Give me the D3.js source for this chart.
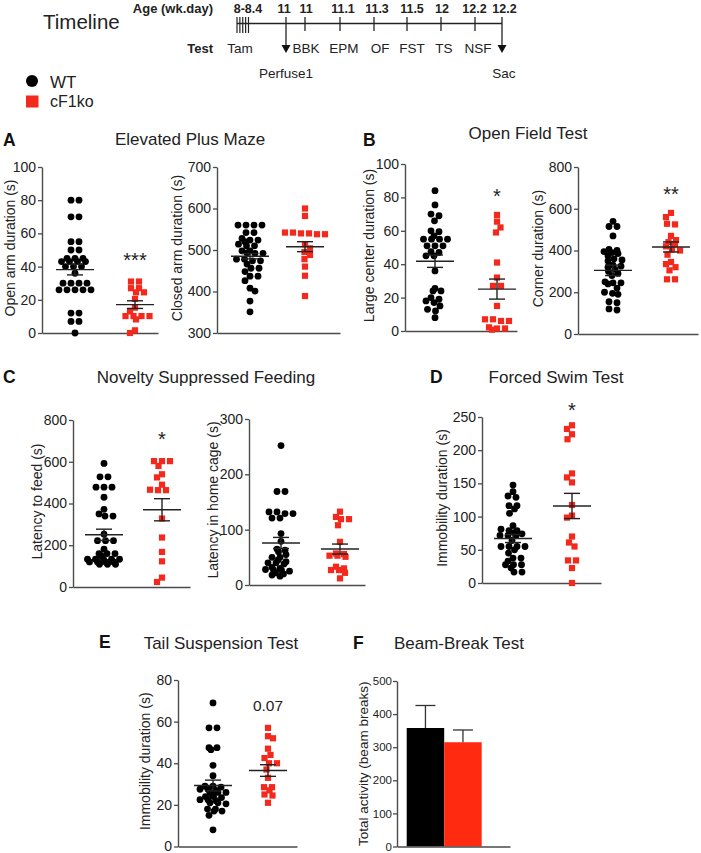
<!DOCTYPE html>
<html><head><meta charset="utf-8">
<script src="https://cdn.jsdelivr.net/npm/d3@7"></script>
<style>
body{margin:0;background:#fff;}
svg{display:block;}
</style></head><body>
<svg id="chart" width="701" height="853"></svg>
<script>
// ================= DATA =================
const groups = ["WT", "cF1ko"];
const groupColors = ["#000000", "#f2291c"];

// timeline
const timelineAgeLabels = ["8-8.4", "11", "11", "11.1", "11.3", "11.5", "12", "12.2", "12.2"];
const timelineTestLabels = ["Tam", "BBK", "EPM", "OF", "FST", "TS", "NSF"];
const timelineMarkers = ["Perfuse1", "Sac"];
const tamInjections = ["8.0", "8.1", "8.2", "8.3", "8.4"];

// panel titles
const panelLetters = ["A", "B", "C", "D", "E", "F"];
const panelTitles = ["Elevated Plus Maze", "Open Field Test", "Novelty Suppressed Feeding",
  "Forced Swim Test", "Tail Suspension Test", "Beam-Break Test"];

// A: Elevated plus maze
const openArmWT = [80,80,70,70,55,55,50,50,45,45,45,43,43,43,43,40,40,40,36,30,30,30,30,26,26,26,26,26,12,12,7,7,0];
const openArmKO = [31,31,27,27,24.5,24.5,20.5,15.3,13,10.2,10.2,10.2,10.2,8.2,1.6,0];
const openArmStats = [[38.2, 3.2], [17.1, 2.3]];
const closedArmWT = [560,560,560,560,542,542,528,524,524,520,514,510,510,498,498,493,492,492,478,478,474,474,466,456,456,448,437,437,426,408,401,377,351];
const closedArmKO = [600,582,542,542,540,540,538,538,514,504,495,488,478,460,438,389];
const closedArmStats = [[485, 6.5], [508, 12]];

// B: Open field
const centerWT = [84,75.5,70,69,66,60,59.5,57,55,55,55,55,51,51,51,47.5,47,45,45,36,25.5,24,24,20,19,18,17,15,13,12,8];
const centerKO = [69.5,65.5,62,59,41,32,27,27,15,7,7,6,6,2.2,1.5,1.5,0.8];
const centerStats = [[41.8, 3.7], [25.1, 6]];
const cornerWT = [540,515,515,470,405,400,395,390,385,375,360,355,350,330,325,320,310,300,290,280,250,245,245,240,220,200,195,190,155,150,120,115];
const cornerKO = [580,560,528,525,470,450,440,430,420,405,400,380,345,335,320,305,262,262];
const cornerStats = [[305, 25], [417, 24]];

// C: Novelty suppressed feeding
const feedWT = [592,528,528,478,478,478,430,372,350,340,340,253,222,222,222,181,160,160,160,150,133,133,133,133,133,120,120,120,120,109,109,109];
const feedKO = [603,603,603,580,540,525,490,466,464,464,328,237,168,123,45,24];
const feedStats = [[250, 27], [370, 53]];
const homeWT = [252,169,169,132,132,129,129,121,121,93,79,65,63,60,55,50,50,45,42,40,40,38,32,30,28,27,27,25,22,20,18,16];
const homeKO = [132.5,123,119,119,108,78,57,56,53,53,51,33,30,27,27,22,12];
const homeStats = [[76, 10], [65, 9]];

// D: Forced swim
const fstWT = [147.5,137.5,131,129,116.5,116.5,111.5,105,86.5,81,79,79,76,74,71.5,71.5,71.5,64,55,55,55,55,50,45,37.5,37.5,33,27.5,27.5,27.5,22.5,16.5,16.5];
const fstKO = [237.5,232,224,216.5,165,159,151.5,117.5,101.5,98.5,70,61,55,34,34,22.5,0];
const fstStats = [[67, 6], [116, 19]];

// E: Tail suspension
const tstWT = [69,57,57,47.5,47.5,46.5,39,34,29,29,28.5,27.5,27.5,27,26,26,26,25,24,24,23.5,22.5,22.5,22,21,21,20.5,18,18,17,17,15,8];
const tstKO = [57,53,52,47,44,42.5,40,40,37,33,28.5,28.5,27,25,24.5,21];
const tstStats = [[29.3, 2.6], [36.5, 2.8]];

// F: Beam break
const bbkMeans = [358, 315];
const bbkSem = [68, 37];

// significance marks
const sigLabels = ["***", "", "*", "**", "*", "", "*", "0.07"];

// ================= LAYOUT =================
const FONT = '"Liberation Sans", Arial, Helvetica, sans-serif';
const svg = d3.select("#chart");
const textCol = "#222";
const axisCol = "#4a4a4a";

// ---------- timeline ----------
const tl = svg.append("g").attr("font-family", FONT).attr("fill", textCol);
tl.append("text").attr("x", 43).attr("y", 29).attr("font-size", 20.5).text("Timeline");
tl.append("text").attr("x", 213).attr("y", 13).attr("text-anchor", "end")
  .attr("font-size", 13).attr("font-weight", "bold").text("Age (wk.day)");
tl.append("text").attr("x", 213).attr("y", 53).attr("text-anchor", "end")
  .attr("font-size", 13).attr("font-weight", "bold").text("Test");

const ageTickX = d3.scaleOrdinal().domain(d3.range(9)).range([248, 286, 305, 340, 374, 407, 441, 475, 502]);
const ageLabelX = d3.scaleOrdinal().domain(d3.range(9)).range([248, 284, 306, 343, 377, 412, 442, 474.5, 504.5]);
const tamX = d3.scalePoint().domain(tamInjections).range([237, 248.5]);
const testX = d3.scaleOrdinal().domain(d3.range(7)).range([240, 306, 344, 380, 412, 444, 478]);
const lineY = 23.5;

tl.append("line").attr("x1", tamX(tamInjections[0])).attr("x2", ageTickX(8))
  .attr("y1", lineY).attr("y2", lineY).attr("stroke", "#222").attr("stroke-width", 1.5);
tamInjections.forEach(t => tl.append("line").attr("x1", tamX(t)).attr("x2", tamX(t))
  .attr("y1", 17).attr("y2", 33).attr("stroke", "#222").attr("stroke-width", 1.2));
timelineAgeLabels.forEach((lab, i) => {
  tl.append("text").attr("x", ageLabelX(i)).attr("y", 13).attr("text-anchor", "middle")
    .attr("font-size", 12.5).attr("font-weight", "bold").text(lab);
  if (i === 0) return;
  const isArrow = (i === 1 || i === 8);
  const x = ageTickX(i);
  tl.append("line").attr("x1", x).attr("x2", x).attr("y1", 17).attr("y2", isArrow ? 46 : 31)
    .attr("stroke", "#222").attr("stroke-width", 1.3);
  if (isArrow) {
    tl.append("path").attr("d", d3.line()([[x - 4.5, 45], [x + 4.5, 45], [x, 53]]) + "Z").attr("fill", "#111");
  }
});
timelineTestLabels.forEach((lab, i) => {
  tl.append("text").attr("x", testX(i)).attr("y", 53).attr("text-anchor", "middle")
    .attr("font-size", 13.5).text(lab);
});
tl.append("text").attr("x", ageTickX(1)).attr("y", 77.5).attr("text-anchor", "middle").attr("font-size", 13.5).text(timelineMarkers[0]);
tl.append("text").attr("x", ageTickX(8) + 2).attr("y", 77.5).attr("text-anchor", "middle").attr("font-size", 13.5).text(timelineMarkers[1]);

// legend
const lg = svg.append("g").attr("font-family", FONT).attr("fill", textCol);
lg.append("circle").attr("cx", 32).attr("cy", 81).attr("r", 6).attr("fill", groupColors[0]);
lg.append("text").attr("x", 50).attr("y", 87.5).attr("font-size", 17).text(groups[0]);
lg.append("rect").attr("x", 26).attr("y", 95.5).attr("width", 12.5).attr("height", 12).attr("fill", groupColors[1]);
lg.append("text").attr("x", 50).attr("y", 107).attr("font-size", 16).text(groups[1]);

// ---------- titles ----------
const titleLayout = [
  {lx: 3, ly: 146, tx: 190, ty: 145},
  {lx: 363, ly: 146, tx: 528, ty: 139},
  {lx: 3, ly: 383, tx: 206, ty: 383},
  {lx: 430, ly: 383, tx: 556, ty: 383},
  {lx: 99, ly: 648, tx: 221, ty: 649},
  {lx: 353, ly: 649, tx: 459, ty: 649}
];
panelTitles.forEach((t, i) => {
  const L = titleLayout[i];
  svg.append("text").attr("x", L.lx).attr("y", L.ly).attr("font-family", FONT)
    .attr("font-size", 17.5).attr("font-weight", "bold").attr("fill", "#111").text(panelLetters[i]);
  svg.append("text").attr("x", L.tx).attr("y", L.ty).attr("font-family", FONT)
    .attr("font-size", 17).attr("text-anchor", "middle").attr("fill", textCol).text(t);
});

// ---------- beeswarm layout ----------
function swarm(values, y, S, D) {
  const pts = values.map(v => ({v, y: y(v), dx: 0})).sort((a, b) => a.y - b.y);
  const rows = [];
  pts.forEach(p => {
    const r = rows[rows.length - 1];
    if (r && p.y - r[0].y <= 1.8) r.push(p); else rows.push([p]);
  });
  const placed = [];
  rows.forEach((r, ri) => {
    const n = r.length;
    const base = r.map((_, i) => (i - (n - 1) / 2) * S);
    const dir = ri % 2 ? -1 : 1;
    const shifts = [0];
    for (let k = 1; k <= 10; k++) shifts.push(dir * k * 0.5, -dir * k * 0.5);
    let best = 0, bestOv = Infinity;
    for (const s of shifts) {
      let ov = 0;
      r.forEach((p, i) => {
        const x = base[i] + s;
        placed.forEach(q => {
          const d = Math.hypot(x - q.dx, p.y - q.y);
          if (d < D) ov += D - d;
        });
      });
      if (ov < bestOv - 1e-6) { bestOv = ov; best = s; }
      if (ov === 0) break;
    }
    r.forEach((p, i) => { p.dx = base[i] + best; placed.push(p); });
  });
  return pts;
}

function styleAxis(g, fs) {
  g.attr("font-family", FONT).attr("font-size", fs);
  g.selectAll(".domain").attr("stroke", axisCol).attr("stroke-width", 1.4);
  g.selectAll(".tick line").attr("stroke", axisCol).attr("stroke-width", 1.3);
  g.selectAll(".tick text").attr("fill", textCol);
}

// ---------- dot panels ----------
const dotPanels = [
  {series: [openArmWT, openArmKO], stats: openArmStats, domain: [0, 100], ticks: d3.range(0, 101, 20),
   label: "Open arm duration (s)", ax: 42, top: 167, bot: 333, xEnd: 158, cx: [75, 135], lx: 10, sig: sigLabels[0], sigY: 266.5},
  {series: [closedArmWT, closedArmKO], stats: closedArmStats, domain: [300, 700], ticks: d3.range(300, 701, 100),
   label: "Closed arm duration (s)", ax: 217, top: 167, bot: 333, xEnd: 340, cx: [250, 305], lx: 177, sig: sigLabels[1], sigY: 0},
  {series: [centerWT, centerKO], stats: centerStats, domain: [0, 100], ticks: d3.range(0, 101, 20),
   label: "Large center duration (s)", ax: 405, top: 164, bot: 331, xEnd: 517, cx: [435, 497], lx: 369, sig: sigLabels[2], sigY: 203},
  {series: [cornerWT, cornerKO], stats: cornerStats, domain: [0, 800], ticks: d3.range(0, 801, 200),
   label: "Corner duration (s)", ax: 578, top: 167, bot: 334, xEnd: 698, cx: [613, 671], lx: 538, sig: sigLabels[3], sigY: 201},
  {series: [feedWT, feedKO], stats: feedStats, domain: [0, 800], ticks: d3.range(0, 801, 200),
   label: "Latency to feed (s)", ax: 73, top: 420, bot: 587, xEnd: 190, cx: [104, 162], lx: 37, sig: sigLabels[4], sigY: 445.5},
  {series: [homeWT, homeKO], stats: homeStats, domain: [0, 300], ticks: d3.range(0, 301, 100),
   label: "Latency in home cage (s)", ax: 249, top: 419, bot: 585, xEnd: 365, cx: [281, 340], lx: 213, sig: sigLabels[5], sigY: 0},
  {series: [fstWT, fstKO], stats: fstStats, domain: [0, 250], ticks: d3.range(0, 251, 50),
   label: "Immobility duration (s)", ax: 482, top: 417, bot: 583, xEnd: 601, cx: [513, 572], lx: 442, sig: sigLabels[6], sigY: 416.5},
  {series: [tstWT, tstKO], stats: tstStats, domain: [0, 80], ticks: d3.range(0, 81, 20),
   label: "Immobility duration (s)", ax: 178, top: 680, bot: 846.5, xEnd: 297, cx: [213, 268], lx: 145, sig: sigLabels[7], sigY: 710.5}
];

dotPanels.forEach(p => {
  const g = svg.append("g");
  const y = d3.scaleLinear().domain(p.domain).range([p.bot, p.top]);
  const xb = d3.scaleBand().domain(groups).range([p.ax, p.xEnd]);
  const xc = d3.scalePoint().domain(groups).range(p.cx);

  const ya = g.append("g").attr("transform", `translate(${p.ax},0)`)
    .call(d3.axisLeft(y).tickValues(p.ticks).tickSize(4).tickSizeOuter(0).tickPadding(2));
  styleAxis(ya, 14);
  const xa = g.append("g").attr("transform", `translate(0,${p.bot})`)
    .call(d3.axisBottom(xb).tickValues([]).tickSizeOuter(0));
  styleAxis(xa, 14);

  g.append("text").attr("transform", `translate(${p.lx},${(p.top + p.bot) / 2 - 2}) rotate(-90)`)
    .attr("text-anchor", "middle").attr("dominant-baseline", "central")
    .attr("font-family", FONT).attr("font-size", 14).attr("fill", textCol).text(p.label);

  p.series.forEach((vals, gi) => {
    const pts = swarm(vals, y, 8, 6.6);
    const cx = xc(groups[gi]);
    if (gi === 0) {
      g.append("g").selectAll("circle").data(pts).join("circle")
        .attr("cx", d => cx + d.dx).attr("cy", d => d.y).attr("r", 3.4).attr("fill", groupColors[0]);
    } else {
      g.append("g").selectAll("rect").data(pts).join("rect")
        .attr("x", d => cx + d.dx - 3.1).attr("y", d => d.y - 3.1)
        .attr("width", 6.2).attr("height", 6.2).attr("fill", groupColors[1]);
    }
  });
  // mean +- SEM
  p.stats.forEach((s, gi) => {
    const cx = xc(groups[gi]);
    const [m, e] = s;
    const sg = g.append("g").attr("stroke", "#222").attr("stroke-width", 1.4);
    sg.append("line").attr("x1", cx - 19).attr("x2", cx + 19).attr("y1", y(m)).attr("y2", y(m));
    sg.append("line").attr("x1", cx).attr("x2", cx).attr("y1", y(m - e)).attr("y2", y(m + e));
    [m - e, m + e].forEach(v => sg.append("line").attr("x1", cx - 8).attr("x2", cx + 8).attr("y1", y(v)).attr("y2", y(v)));
  });
  if (p.sig) {
    const isNum = p.sig === "0.07";
    g.append("text").attr("x", xc(groups[1])).attr("y", p.sigY).attr("text-anchor", "middle")
      .attr("font-family", FONT).attr("font-size", isNum ? 15.5 : 20).attr("fill", textCol).text(p.sig);
  }
});

// ---------- F: bar chart ----------
(function () {
  const P = {ax: 397, top: 681, bot: 846.5, xEnd: 510, lx: 363};
  const barColors = ["#000000", "#ff2a10"];
  const g = svg.append("g");
  const y = d3.scaleLinear().domain([0, 500]).range([P.bot, P.top]);
  const xb = d3.scaleBand().domain(groups).range([406.7, 481.7]).padding(0);
  const xa0 = d3.scaleBand().domain(groups).range([P.ax, P.xEnd]);

  g.selectAll("rect.bar").data(bbkMeans).join("rect").attr("class", "bar")
    .attr("x", (d, i) => xb(groups[i])).attr("width", xb.bandwidth())
    .attr("y", d => y(d)).attr("height", d => y(0) - y(d))
    .attr("fill", (d, i) => barColors[i]);
  bbkMeans.forEach((m, i) => {
    const cx = xb(groups[i]) + xb.bandwidth() / 2;
    const eg = g.append("g").attr("stroke", "#333").attr("stroke-width", 1.3);
    eg.append("line").attr("x1", cx).attr("x2", cx).attr("y1", y(m)).attr("y2", y(m + bbkSem[i]));
    eg.append("line").attr("x1", cx - 10).attr("x2", cx + 10).attr("y1", y(m + bbkSem[i])).attr("y2", y(m + bbkSem[i]));
  });
  const ya = g.append("g").attr("transform", `translate(${P.ax},0)`)
    .call(d3.axisLeft(y).tickValues(d3.range(0, 501, 100)).tickSize(4).tickSizeOuter(0).tickPadding(1));
  styleAxis(ya, 11.5);
  const xa = g.append("g").attr("transform", `translate(0,${P.bot})`)
    .call(d3.axisBottom(xa0).tickValues([]).tickSizeOuter(0));
  styleAxis(xa, 11.5);
  g.append("text").attr("transform", `translate(${P.lx},${(P.top + P.bot) / 2}) rotate(-90)`)
    .attr("text-anchor", "middle").attr("dominant-baseline", "central")
    .attr("font-family", FONT).attr("font-size", 13.5).attr("fill", textCol).text("Total activity (beam breaks)");
})();
</script>
</body></html>
